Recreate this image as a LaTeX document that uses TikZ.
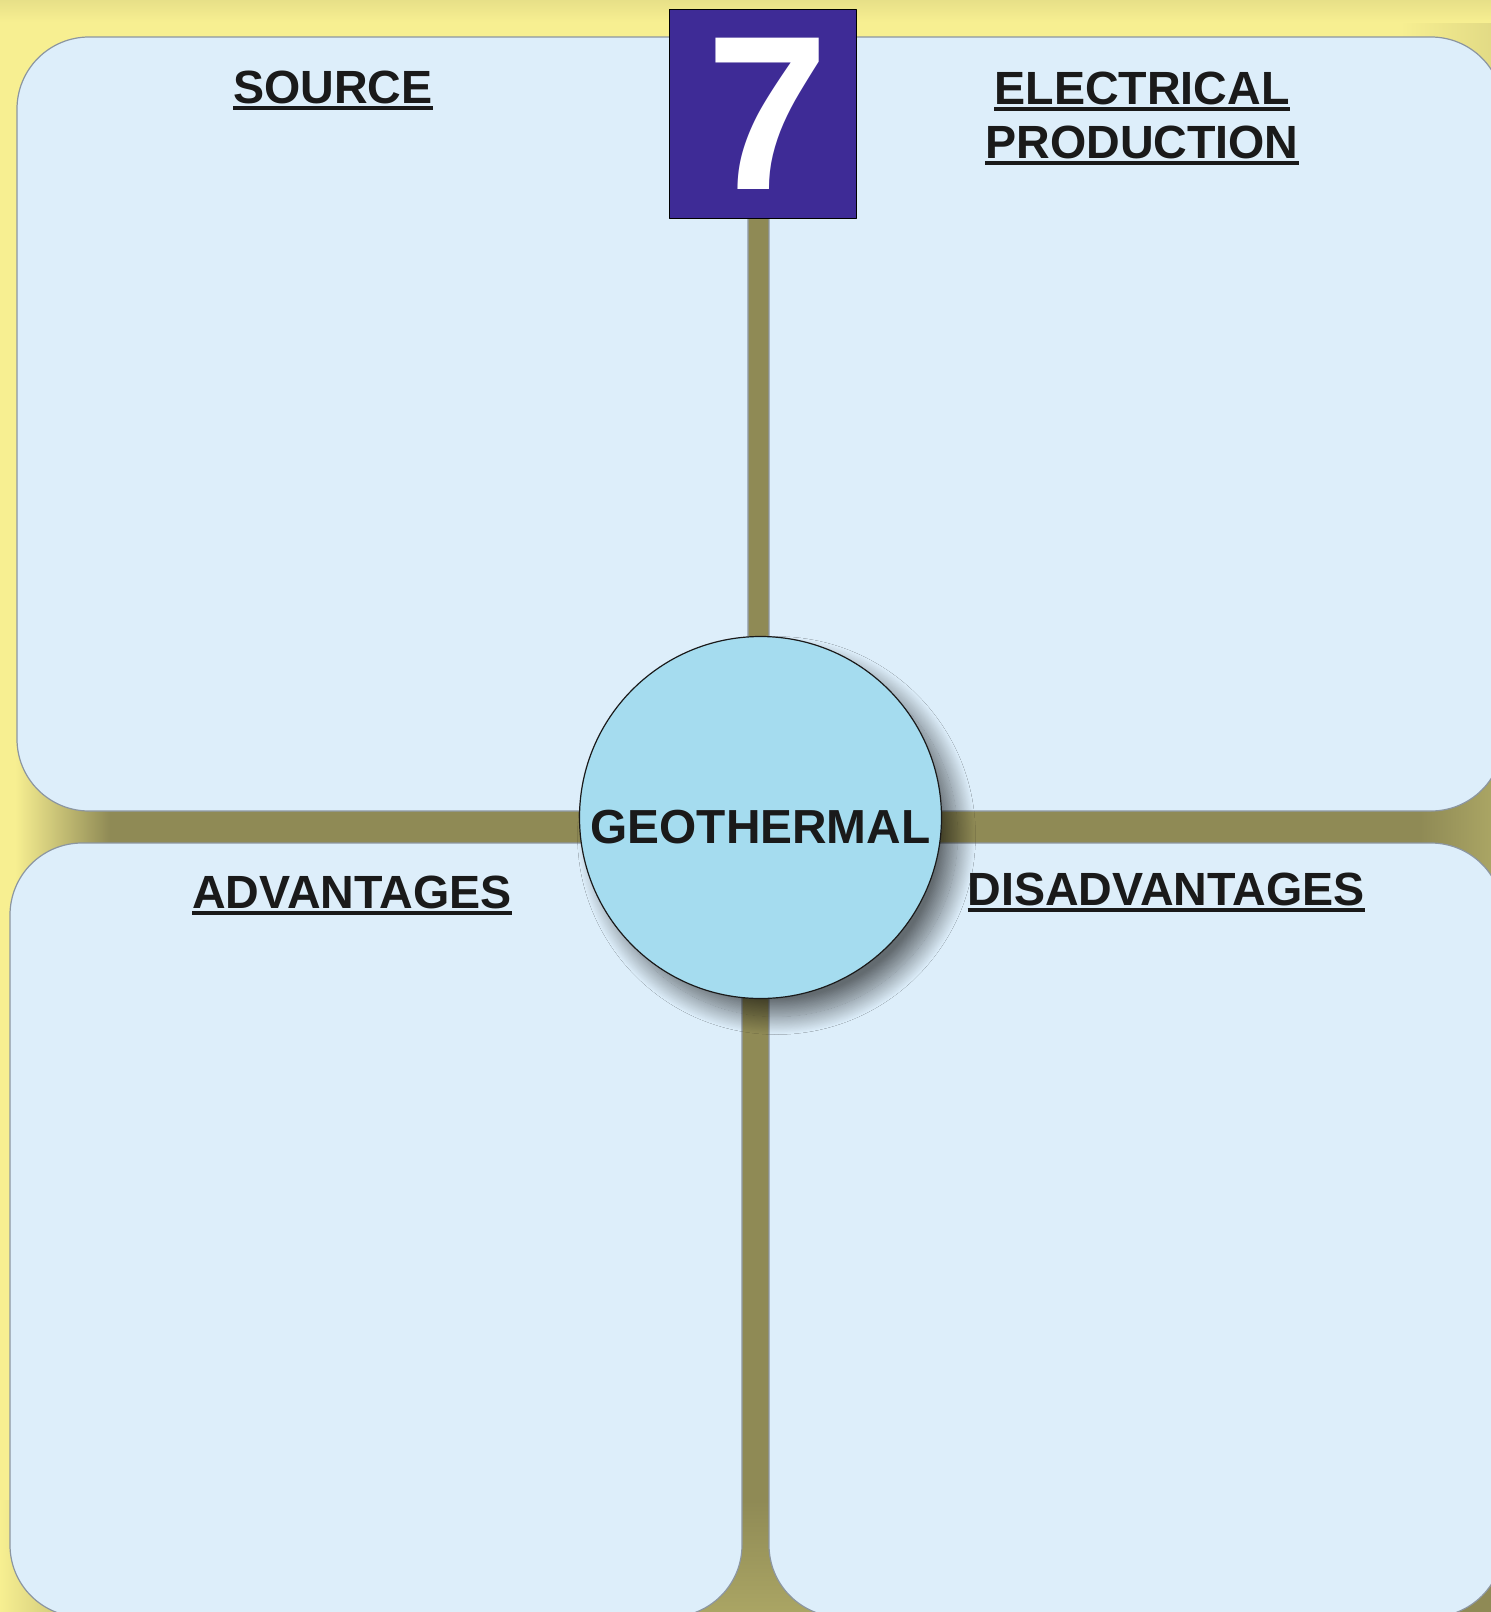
\documentclass[tikz,border=0pt]{standalone}
\usepackage{fontspec}
\setmainfont{Liberation Sans}
\usetikzlibrary{positioning,shadows.blur}

% underlined heading
\newsavebox{\headbox}
\newcommand{\ulhead}[1]{\sbox{\headbox}{#1}\rlap{\usebox{\headbox}}\rule[-3.4pt]{\wd\headbox}{1.7pt}}

\begin{document}
\begin{tikzpicture}[
		x=0.5pt,y=-0.5pt,
		line cap=round,line join=round,
		font=\bfseries
		]
		% ---- colors
		\definecolor{bgYellow}{RGB}{247,239,145}
		\definecolor{gapOlive}{RGB}{143,138,85}
		\definecolor{gapLight}{RGB}{170,165,100}
		\definecolor{panelBlue}{RGB}{221,238,250}
		\definecolor{panelEdge}{RGB}{140,150,160}
		\definecolor{hubBlue}{RGB}{165,220,239}
		\definecolor{numPurple}{RGB}{62,43,150}
		\definecolor{inkBlack}{RGB}{26,26,26}
		
		% ---- parameters (pixel grid, y down)
		\def\W{1491}
		\def\H{1612}
		\def\rad{36pt}
		\def\yTop{37}
		\def\yMidA{811}
		\def\yMidB{843}
		\def\yBot{1617}
		\def\xMidA{748}
		\def\xMidB{769}
		\def\xMidC{742}
		\def\xRight{1503}
		
		\tikzset{
			panel/.style={draw=panelEdge, line width=0.6pt, fill=panelBlue, rounded corners=\rad},
			head/.style={anchor=base, inner sep=0pt, text=inkBlack, font=\bfseries\fontsize{23.3pt}{27pt}\selectfont},
			hub/.style={circle, draw=inkBlack, line width=0.6pt, fill=hubBlue, minimum size=181pt, inner sep=0pt,
				text=inkBlack, font=\bfseries\fontsize{23.9pt}{28pt}\selectfont, text height=26pt, text depth=0pt,
				blur shadow={shadow xshift=8pt, shadow yshift=-9pt, shadow blur radius=9pt, shadow blur steps=30, shadow opacity=55}},
			numbox/.style={rectangle, draw=black, line width=0.5pt, fill=numPurple, minimum width=93.5pt,
				minimum height=104.5pt, inner sep=0pt, text=white, font=\bfseries\fontsize{110pt}{110pt}\selectfont}
		}
		
		\useasboundingbox (0,0) rectangle (\W,\H);
		\clip (0,0) rectangle (\W,\H);
		
		% ---- background + soft shading
		\fill[bgYellow] (0,0) rectangle (\W,\H);
		\shade[left color=bgYellow, right color=bgYellow!80!gapOlive] (1400,0) rectangle (\W,120);
		\shade[top color=bgYellow!85!gapOlive, bottom color=bgYellow] (0,0) rectangle (\W,22);
		\shade[left color=bgYellow, right color=bgYellow!45!gapOlive] (0,1500) rectangle (90,\H);
		\fill[gapOlive] (1420,1530) rectangle (\W,\H);
		
		% ---- olive gaps between the panels
		\shade[left color=bgYellow, right color=gapOlive] (15,750) rectangle (110,905);
		\fill[gapOlive] (110,750) rectangle (1420,905);
		\shade[left color=gapOlive, right color=gapLight] (1420,735) rectangle (\W,920);
		\fill[gapOlive] (700,\yTop) rectangle (820,\yMidA);
		\fill[gapOlive] (665,\yMidB) rectangle (845,1500);
		\shade[top color=gapOlive, bottom color=gapLight] (665,1500) rectangle (845,\H);
		
		% ---- four panels
		\draw[panel] (17,\yTop) rectangle (\xMidA,\yMidA);
		\draw[panel] (\xMidB,\yTop) rectangle (\xRight,\yMidA);
		\draw[panel] (10,\yMidB) rectangle (\xMidC,\yBot);
		\draw[panel] (\xMidB,\yMidB) rectangle (\xRight,\yBot);
		
		% ---- headings
		\node[head] (src) at (333,103) {\ulhead{SOURCE}};
		\node[head] (elec) at (1142,104) {\ulhead{ELECTRICAL}};
		\node[head] (prod) at (1142,158) {\ulhead{PRODUCTION}};
		\node[head] (adv) at (352,908) {\ulhead{ADVANTAGES}};
		\node[head] (disadv) at (1166,905) {\ulhead{DISADVANTAGES}};
		
		% ---- centre circle + number
		\node[hub] (geo) at (760.5,817.5) {GEOTHERMAL};
		\node[numbox] (num) at (762.5,113.5) {\kern5pt7};
		
	\end{tikzpicture}
\end{document}
